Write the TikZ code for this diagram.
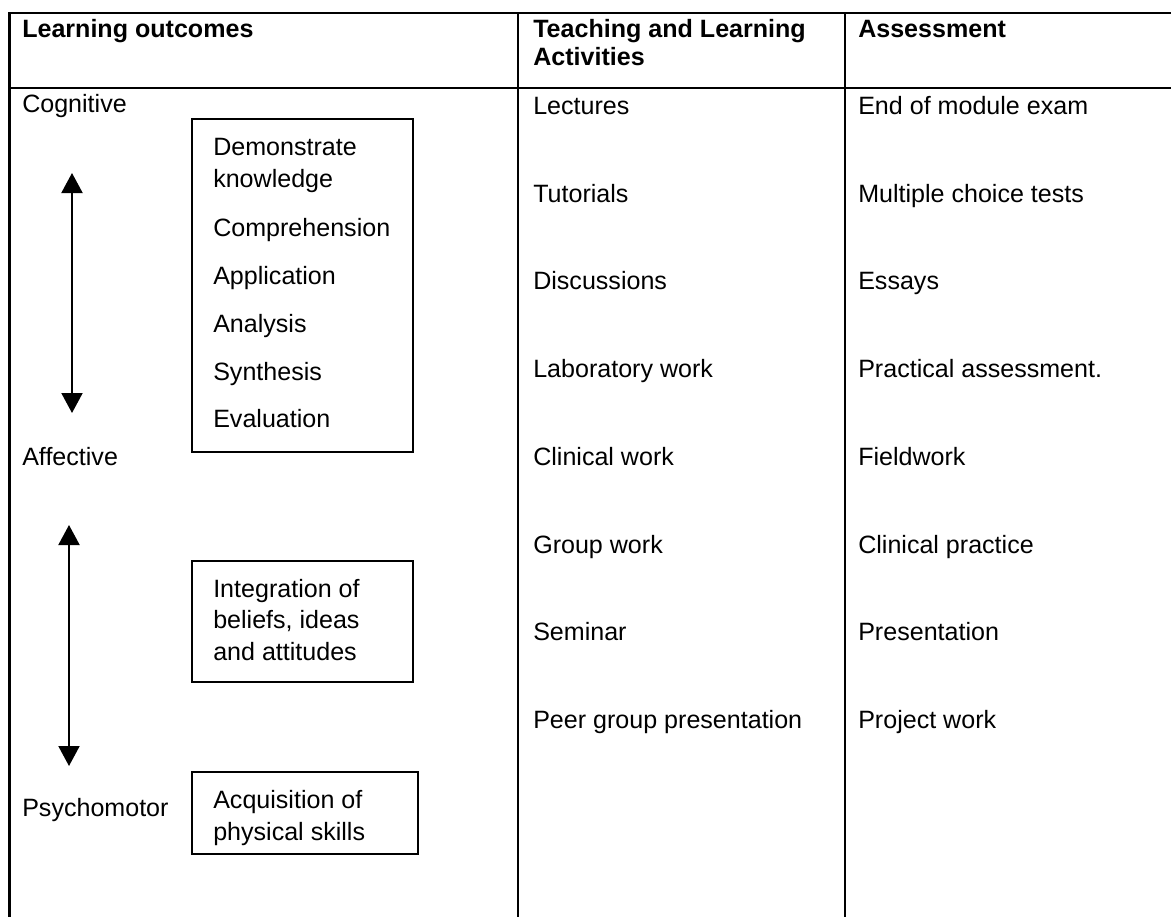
\documentclass[tikz,border=0pt]{standalone}
\usepackage{fontspec}
\setmainfont{Liberation Sans}
\usetikzlibrary{arrows.meta}
\tikzset{
  txt/.style={anchor=base west,inner sep=0pt,font=\fontsize{18.8}{22}\selectfont},
  hdr/.style={anchor=base west,inner sep=0pt,font=\fontsize{18.8}{22}\selectfont\bfseries},
  tabline/.style={line width=2.1pt},
  outbox/.style={line width=1.2pt},
  twoway/.style={line width=1.5pt,{Triangle[width=15.75pt,length=15pt]}-{Triangle[width=15.75pt,length=15pt]}}
}

\begin{document}
\begin{tikzpicture}[x=0.75pt,y=0.75pt,yscale=-1,xscale=1]
\useasboundingbox (0,0) rectangle (1171,917);

%Table lines
\draw [tabline] (1175,13) -- (9.5,13) -- (9.5,920) ;
\draw [tabline] (9.5,88) -- (1175,88) ;
\draw [tabline] (518,13) -- (518,920) ;
\draw [tabline] (845,13) -- (845,920) ;

% Text Node
\node [hdr] (outcomes) at (22,38) {Learning outcomes};
% Text Node
\node [hdr] (teachA) at (533,38) {Teaching and Learning};
% Text Node
\node [hdr] (teachB) at (533,66) {Activities};
% Text Node
\node [hdr] (assess) at (858,38) {Assessment};

% Text Node
\node [txt] (cognitive) at (22,113) {Cognitive};
% Text Node
\node [txt] (affective) at (22,465) {Affective};
% Text Node
\node [txt] (psycho) at (22,816) {Psychomotor};

%Shape: Rectangle
\draw [outbox] (192,119) rectangle (413,452) ;
%Shape: Rectangle
\draw [outbox] (192,561) rectangle (413,682) ;
%Shape: Rectangle
\draw [outbox] (192,772) rectangle (418,854) ;

% Text Node
\node [txt] (demo) at (213,156) {Demonstrate};
\node [txt] (know) at (213,187) {knowledge};
\node [txt] (compr) at (213,236) {Comprehension};
\node [txt] (appl) at (213,284) {Application};
\node [txt] (analy) at (213,332) {Analysis};
\node [txt] (synth) at (213,380) {Synthesis};
\node [txt] (evalu) at (213,427) {Evaluation};
% Text Node
\node [txt] (integ) at (213,597) {Integration of};
\node [txt] (belief) at (213,628) {beliefs, ideas};
\node [txt] (attit) at (213,660) {and attitudes};
% Text Node
\node [txt] (acqui) at (213,808) {Acquisition of};
\node [txt] (skills) at (213,840) {physical skills};

%Straight Lines
\coordinate (cogtop) at (72,173);
\coordinate (cogbot) at (72,413);
\draw [twoway] (cogtop) -- (cogbot) ;
%Straight Lines
\coordinate (afftop) at (69,525);
\coordinate (affbot) at (69,766);
\draw [twoway] (afftop) -- (affbot) ;

% Text Node
\node [txt] (lect) at (533,114) {Lectures};
\node [txt] (tuto) at (533,202) {Tutorials};
\node [txt] (disc) at (533,289) {Discussions};
\node [txt] (labo) at (533,377) {Laboratory work};
\node [txt] (clin) at (533,465) {Clinical work};
\node [txt] (group) at (533,553) {Group work};
\node [txt] (semi) at (533,640) {Seminar};
\node [txt] (peer) at (533,728) {Peer group presentation};

% Text Node
\node [txt] (exam) at (858,114) {End of module exam};
\node [txt] (mcq) at (858,202) {Multiple choice tests};
\node [txt] (essay) at (858,289) {Essays};
\node [txt] (pract) at (858,377) {Practical assessment.};
\node [txt] (field) at (858,465) {Fieldwork};
\node [txt] (clinp) at (858,553) {Clinical practice};
\node [txt] (pres) at (858,640) {Presentation};
\node [txt] (proj) at (858,728) {Project work};

\end{tikzpicture}
\end{document}
